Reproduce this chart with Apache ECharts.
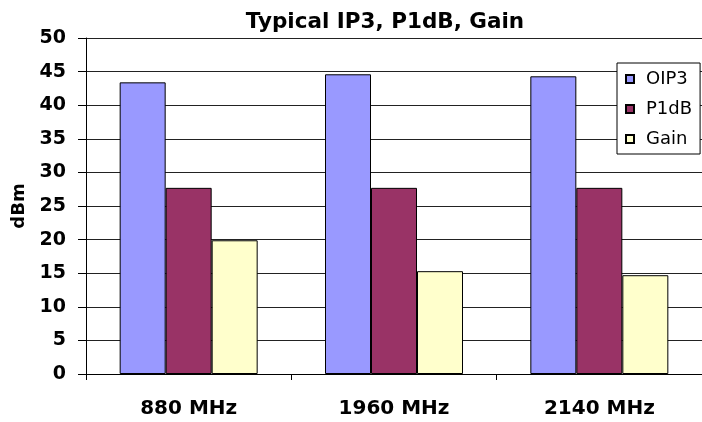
<!DOCTYPE html>
<html>
<head>
<meta charset="utf-8">
<script src="https://cdn.jsdelivr.net/npm/echarts@6/dist/echarts.min.js"></script>
<style>
  html, body { margin: 0; padding: 0; background: #fff; }
  #chart { width: 702px; height: 422px; }
</style>
</head>
<body>
<div id="chart"></div>
<script>
// data
const categories = ["880 MHz", "1960 MHz", "2140 MHz"];
const oip3 = [43.4, 44.6, 44.3];
const p1db = [27.7, 27.7, 27.7];
const gain = [19.9, 15.3, 14.7];
const seriesNames = ["OIP3", "P1dB", "Gain"];
const seriesColors = ["#9999FF", "#993366", "#FFFFCC"];

const font = "DejaVu Sans, Arial, sans-serif";

const chart = echarts.init(document.getElementById("chart"));

const makeSeries = (name, data, color) => ({
  name,
  type: "bar",
  data,
  barWidth: 46,
  barGap: "0%",
  itemStyle: { color, borderColor: "#000", borderWidth: 1 },
});

const option = {
  animation: false,
  title: {
    text: "Typical IP3, P1dB, Gain",
    left: 380,
    textAlign: "center",
    top: 6,
    textStyle: { fontFamily: font, fontWeight: "bold", fontSize: 21.5, color: "#000" },
  },
  legend: {
    orient: "vertical",
    left: 617,
    top: 63,
    padding: [7, 8, 6, 8],
    itemGap: 12,
    itemWidth: 8,
    itemHeight: 8,
    icon: "rect",
    backgroundColor: "#fff",
    borderColor: "#000",
    borderWidth: 1,
    borderRadius: 0,
    textStyle: { fontFamily: font, fontSize: 18, lineHeight: 18, color: "#000", padding: [0, 0, 0, 7] },
    data: seriesNames,
  },
  grid: { left: 86, right: -8, top: 38, bottom: 48, containLabel: false },
  xAxis: {
    type: "category",
    data: categories,
    axisLine: { lineStyle: { color: "#000", width: 1 } },
    axisTick: { show: true, length: 6, lineStyle: { color: "#000" } },
    axisLabel: { fontFamily: font, fontWeight: "bold", fontSize: 20, color: "#000", margin: 25 },
  },
  yAxis: {
    type: "value",
    min: 0,
    max: 50,
    interval: 5,
    name: "dBm",
    nameLocation: "middle",
    nameRotate: 90,
    nameGap: 58,
    nameTextStyle: { fontFamily: font, fontWeight: "bold", fontSize: 18, color: "#000" },
    axisLine: { show: true, lineStyle: { color: "#000", width: 1 } },
    axisTick: { show: true, length: 8, lineStyle: { color: "#000" } },
    axisLabel: { fontFamily: font, fontWeight: "bold", fontSize: 19, color: "#000", margin: 20 },
    splitLine: { show: true, lineStyle: { color: "#222", width: 1 } },
  },
  series: [
    makeSeries(seriesNames[0], oip3, seriesColors[0]),
    makeSeries(seriesNames[1], p1db, seriesColors[1]),
    makeSeries(seriesNames[2], gain, seriesColors[2]),
  ],
};

chart.setOption(option);
</script>
</body>
</html>
